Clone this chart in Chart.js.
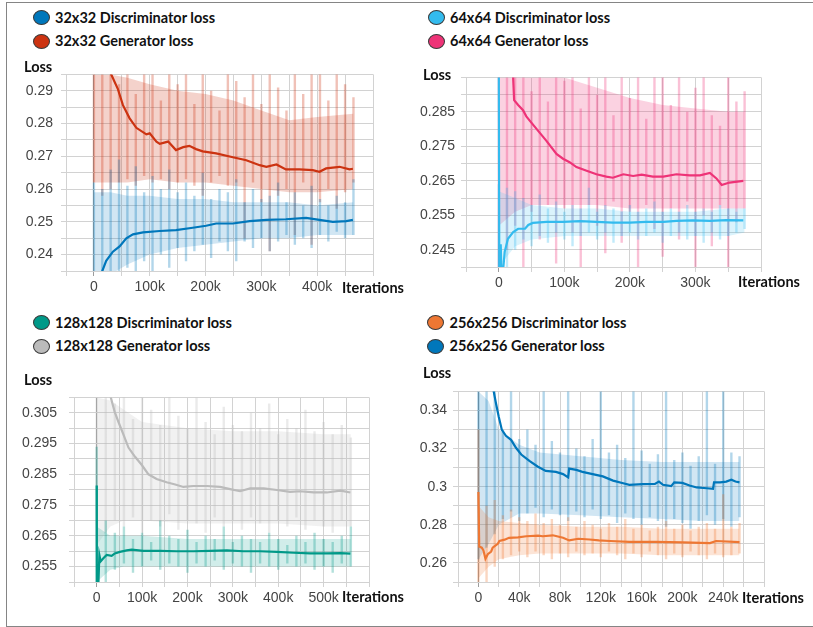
<!DOCTYPE html>
<html>
<head>
<meta charset="utf-8">
<title>GAN losses</title>
<script src="https://cdn.jsdelivr.net/npm/chart.js@4.4.0/dist/chart.umd.min.js"></script>
<style>
  html, body { margin: 0; padding: 0; background: #fff; overflow: hidden; }
  body { width: 813px; height: 627px; position: relative; font-family: Lato, 'Open Sans', sans-serif; }
  .frame { position: absolute; left: 6px; top: 2px; width: 900px; height: 625px; box-sizing: border-box;
           border: 1px solid #858585; border-right: none; }
  canvas { position: absolute; }
  .leg { position: absolute; height: 20px; line-height: 20px; font-weight: 700; font-size: 14.5px; color: #111; white-space: nowrap; }
  .dot { position: absolute; width: 17px; height: 15px; border-radius: 50%; border: 1px solid #3a3a3a; box-sizing: border-box; }
  .lbl { position: absolute; height: 20px; line-height: 20px; font-weight: 700; font-size: 14.5px; color: #111; white-space: nowrap; }
</style>
</head>
<body>
<div class="frame"></div>
<canvas id="c1" width="382" height="248" style="left:6px;top:58px"></canvas>
<canvas id="c2" width="370" height="239" style="left:406px;top:63px"></canvas>
<canvas id="c3" width="370" height="240" style="left:14px;top:377px"></canvas>
<canvas id="c4" width="381" height="240" style="left:398px;top:377px"></canvas>
<div id="labels"></div>

<script>
// ---------- panel 1 : 32x32 ----------
const p1Names = ['32x32 Discriminator loss', '32x32 Generator loss'];
const p1XLabels = ['0', '100k', '200k', '300k', '400k'];
const p1YLabels = ['0.24', '0.25', '0.26', '0.27', '0.28', '0.29'];
const p1DiscX = [14000, 15000, 22000, 34000, 46000, 58000, 70000, 88000, 118000, 147000, 177000, 201000, 219000, 249000, 279000, 309000, 344000, 380000, 404000, 428000, 452000, 464000];
const p1DiscY = [0.233, 0.235, 0.2381, 0.2409, 0.2425, 0.2450, 0.2462, 0.2468, 0.2472, 0.2475, 0.2482, 0.2488, 0.2495, 0.2495, 0.2502, 0.2506, 0.2508, 0.2512, 0.2506, 0.2500, 0.2502, 0.2506];
const p1GenX = [30000, 31000, 43000, 52000, 64000, 76000, 94000, 100000, 112000, 118000, 133000, 147000, 160000, 171000, 183000, 195000, 219000, 249000, 273000, 297000, 309000, 327000, 344000, 368000, 392000, 404000, 416000, 440000, 458000, 464000];
const p1GenY = [0.297, 0.295, 0.2905, 0.2856, 0.2816, 0.2787, 0.2767, 0.2770, 0.2745, 0.2738, 0.2745, 0.2719, 0.2728, 0.2732, 0.2722, 0.2715, 0.2709, 0.2697, 0.2688, 0.2673, 0.2668, 0.2675, 0.2660, 0.2660, 0.2658, 0.2653, 0.2663, 0.2668, 0.2660, 0.2662];
// raw (unsmoothed) curves: spike tops / bottoms and the dense core
const p1RawX = [0, 15000, 30000, 45000, 60000, 75000, 90000, 105000, 120000, 135000, 150000, 165000, 180000, 195000, 210000, 225000, 240000, 255000, 270000, 285000, 300000, 315000, 330000, 345000, 360000, 375000, 390000, 405000, 420000, 435000, 450000, 465000];
const p1DiscHi = [0.262, 0.260, 0.266, 0.269, 0.261, 0.267, 0.259, 0.264, 0.260, 0.266, 0.259, 0.262, 0.258, 0.265, 0.257, 0.260, 0.259, 0.263, 0.256, 0.260, 0.257, 0.258, 0.262, 0.256, 0.259, 0.255, 0.261, 0.257, 0.255, 0.258, 0.256, 0.263];
const p1DiscLo = [0.230, 0.230, 0.230, 0.233, 0.236, 0.230, 0.238, 0.234, 0.240, 0.236, 0.242, 0.238, 0.241, 0.243, 0.239, 0.244, 0.241, 0.238, 0.244, 0.242, 0.245, 0.241, 0.244, 0.246, 0.243, 0.245, 0.242, 0.246, 0.244, 0.247, 0.245, 0.246];
const p1GenHi = [0.300, 0.300, 0.296, 0.292, 0.300, 0.289, 0.300, 0.296, 0.287, 0.300, 0.292, 0.300, 0.286, 0.300, 0.290, 0.284, 0.300, 0.293, 0.288, 0.300, 0.286, 0.300, 0.291, 0.284, 0.300, 0.289, 0.300, 0.300, 0.287, 0.300, 0.292, 0.288];
const p1GenLo = [0.262, 0.258, 0.260, 0.262, 0.263, 0.261, 0.264, 0.262, 0.263, 0.260, 0.262, 0.263, 0.261, 0.258, 0.262, 0.264, 0.261, 0.262, 0.245, 0.262, 0.256, 0.241, 0.258, 0.260, 0.246, 0.262, 0.243, 0.256, 0.260, 0.254, 0.259, 0.262];
const p1CoreX = [0, 30000, 60000, 100000, 150000, 200000, 250000, 300000, 350000, 400000, 465000];
const p1DiscCoreHi = [0.259, 0.259, 0.258, 0.258, 0.257, 0.257, 0.256, 0.256, 0.256, 0.255, 0.256];
const p1DiscCoreLo = [0.232, 0.234, 0.237, 0.240, 0.242, 0.243, 0.244, 0.245, 0.245, 0.246, 0.246];
const p1GenCoreHi = [0.295, 0.295, 0.294, 0.292, 0.290, 0.289, 0.287, 0.284, 0.281, 0.282, 0.283];
const p1GenCoreLo = [0.262, 0.262, 0.262, 0.263, 0.262, 0.262, 0.261, 0.260, 0.259, 0.259, 0.260];

// ---------- panel 2 : 64x64 ----------
const p2Names = ['64x64 Discriminator loss', '64x64 Generator loss'];
const p2XLabels = ['0', '100k', '200k', '300k'];
const p2YLabels = ['0.245', '0.255', '0.265', '0.275', '0.285'];
const p2DiscX = [0, 800, 1500, 3000, 4000, 6600, 9000, 14000, 22000, 29500, 40000, 45000, 52000, 73000, 98000, 124000, 149000, 174000, 200000, 225000, 251000, 271000, 296000, 322000, 347000, 373000];
const p2DiscY = [0.300, 0.238, 0.2463, 0.2463, 0.239, 0.239, 0.2444, 0.2482, 0.2501, 0.2511, 0.2511, 0.2522, 0.2528, 0.2531, 0.2531, 0.2533, 0.2531, 0.2529, 0.2529, 0.2531, 0.2531, 0.2534, 0.2535, 0.2534, 0.2536, 0.2535];
const p2GenX = [21000, 21900, 23400, 29500, 37000, 42000, 50000, 62600, 72700, 88000, 98000, 108000, 118500, 134000, 149000, 164000, 174000, 190000, 205000, 218000, 235000, 251000, 271000, 291000, 307000, 322000, 332000, 340000, 352000, 373000];
const p2GenY = [0.300, 0.295, 0.2884, 0.2870, 0.2855, 0.2837, 0.2818, 0.2789, 0.2766, 0.2728, 0.2714, 0.2704, 0.2690, 0.2679, 0.2669, 0.2662, 0.2659, 0.2669, 0.2664, 0.2668, 0.2662, 0.2662, 0.2669, 0.2666, 0.2666, 0.2673, 0.2657, 0.2638, 0.2645, 0.2650];
const p2RawX = [0, 12500, 25000, 37500, 50000, 62500, 75000, 87500, 100000, 112500, 125000, 137500, 150000, 162500, 175000, 187500, 200000, 212500, 225000, 237500, 250000, 262500, 275000, 287500, 300000, 312500, 325000, 337500, 350000, 362500, 375000];
const p2DiscHi = [0.264, 0.263, 0.262, 0.260, 0.258, 0.261, 0.257, 0.259, 0.256, 0.258, 0.257, 0.263, 0.256, 0.258, 0.257, 0.256, 0.258, 0.256, 0.257, 0.259, 0.256, 0.257, 0.256, 0.258, 0.256, 0.257, 0.256, 0.258, 0.257, 0.256, 0.257];
const p2DiscLo = [0.240, 0.240, 0.245, 0.248, 0.246, 0.249, 0.247, 0.250, 0.248, 0.246, 0.249, 0.250, 0.248, 0.250, 0.247, 0.249, 0.250, 0.248, 0.249, 0.250, 0.247, 0.249, 0.250, 0.248, 0.249, 0.247, 0.250, 0.248, 0.249, 0.250, 0.251];
const p2GenHi = [0.300, 0.300, 0.300, 0.300, 0.291, 0.300, 0.288, 0.300, 0.294, 0.300, 0.286, 0.300, 0.290, 0.300, 0.284, 0.300, 0.289, 0.300, 0.283, 0.296, 0.300, 0.287, 0.300, 0.285, 0.292, 0.300, 0.284, 0.281, 0.300, 0.288, 0.291];
const p2GenLo = [0.240, 0.245, 0.252, 0.240, 0.256, 0.248, 0.258, 0.241, 0.257, 0.250, 0.240, 0.258, 0.252, 0.244, 0.259, 0.247, 0.256, 0.240, 0.258, 0.251, 0.243, 0.257, 0.248, 0.259, 0.240, 0.255, 0.246, 0.258, 0.240, 0.253, 0.257];
const p2CoreX = [0, 25000, 50000, 100000, 150000, 200000, 250000, 300000, 350000, 375000];
const p2DiscCoreHi = [0.262, 0.260, 0.258, 0.257, 0.257, 0.256, 0.256, 0.256, 0.257, 0.257];
const p2DiscCoreLo = [0.240, 0.246, 0.248, 0.249, 0.249, 0.249, 0.249, 0.249, 0.249, 0.250];
const p2GenCoreHi = [0.300, 0.300, 0.298, 0.295, 0.292, 0.289, 0.287, 0.286, 0.285, 0.285];
const p2GenCoreLo = [0.252, 0.256, 0.258, 0.258, 0.258, 0.257, 0.257, 0.257, 0.257, 0.257];

// ---------- panel 3 : 128x128 ----------
const p3Names = ['128x128 Discriminator loss', '128x128 Generator loss'];
const p3XLabels = ['0', '100k', '200k', '300k', '400k', '500k'];
const p3YLabels = ['0.255', '0.265', '0.275', '0.285', '0.295', '0.305'];
const p3DiscX = [0, 300, 3700, 5900, 8800, 14700, 22000, 33000, 40000, 51000, 66000, 77000, 103000, 140000, 176000, 213000, 250000, 287000, 323000, 360000, 397000, 434000, 470000, 507000, 537000, 559000];
const p3DiscY = [0.2814, 0.249, 0.249, 0.2588, 0.2567, 0.2577, 0.2588, 0.2585, 0.2593, 0.2598, 0.2603, 0.2605, 0.2601, 0.2601, 0.2600, 0.2600, 0.2601, 0.2603, 0.2600, 0.2600, 0.2598, 0.2595, 0.2593, 0.2593, 0.2594, 0.2592];
const p3GenX = [30000, 31000, 40000, 48000, 59000, 70000, 84500, 99000, 114000, 132000, 154000, 173000, 191000, 213000, 243000, 272000, 294000, 316000, 338000, 368000, 397000, 426000, 448000, 478000, 507000, 537000, 559000];
const p3GenY = [0.312, 0.310, 0.3051, 0.3020, 0.2979, 0.2937, 0.2907, 0.2881, 0.2850, 0.2835, 0.2824, 0.2817, 0.2809, 0.2812, 0.2812, 0.2809, 0.2802, 0.2795, 0.2804, 0.2804, 0.2799, 0.2793, 0.2795, 0.2791, 0.2791, 0.2797, 0.2791];
const p3RawX = [0, 20000, 40000, 60000, 80000, 100000, 120000, 140000, 160000, 180000, 200000, 220000, 240000, 260000, 280000, 300000, 320000, 340000, 360000, 380000, 400000, 420000, 440000, 460000, 480000, 500000, 520000, 540000, 560000];
const p3DiscHi = [0.294, 0.270, 0.266, 0.268, 0.264, 0.266, 0.263, 0.270, 0.265, 0.264, 0.267, 0.263, 0.265, 0.264, 0.268, 0.263, 0.265, 0.264, 0.263, 0.266, 0.264, 0.262, 0.265, 0.263, 0.266, 0.264, 0.263, 0.265, 0.268];
const p3DiscLo = [0.250, 0.250, 0.254, 0.256, 0.253, 0.255, 0.257, 0.254, 0.256, 0.255, 0.253, 0.256, 0.255, 0.257, 0.254, 0.256, 0.255, 0.253, 0.256, 0.255, 0.254, 0.256, 0.255, 0.256, 0.254, 0.255, 0.253, 0.256, 0.255];
const p3GenHi = [0.315, 0.315, 0.308, 0.315, 0.303, 0.315, 0.306, 0.301, 0.315, 0.304, 0.300, 0.310, 0.302, 0.298, 0.307, 0.301, 0.299, 0.305, 0.300, 0.308, 0.298, 0.303, 0.300, 0.306, 0.299, 0.302, 0.298, 0.301, 0.297];
const p3GenLo = [0.260, 0.266, 0.270, 0.268, 0.271, 0.266, 0.270, 0.268, 0.272, 0.267, 0.270, 0.269, 0.266, 0.271, 0.268, 0.270, 0.267, 0.271, 0.269, 0.266, 0.270, 0.268, 0.271, 0.267, 0.270, 0.268, 0.266, 0.270, 0.268];
const p3CoreX = [0, 30000, 60000, 100000, 200000, 300000, 400000, 500000, 560000];
const p3DiscCoreHi = [0.268, 0.265, 0.265, 0.265, 0.264, 0.264, 0.264, 0.264, 0.264];
const p3DiscCoreLo = [0.250, 0.254, 0.255, 0.255, 0.255, 0.255, 0.255, 0.255, 0.255];
const p3GenCoreHi = [0.310, 0.309, 0.306, 0.302, 0.300, 0.299, 0.299, 0.298, 0.298];
const p3GenCoreLo = [0.262, 0.268, 0.270, 0.270, 0.269, 0.269, 0.269, 0.268, 0.268];

// ---------- panel 4 : 256x256 ----------
const p4Names = ['256x256 Discriminator loss', '256x256 Generator loss'];
const p4XLabels = ['0', '40k', '80k', '120k', '160k', '200k', '240k'];
const p4YLabels = ['0.26', '0.28', '0.3', '0.32', '0.34'];
const p4DiscX = [0, 800, 3300, 5000, 6900, 9200, 12500, 14000, 19000, 20600, 25700, 30000, 38800, 47000, 58600, 63000, 73000, 83000, 89000, 98000, 109000, 118000, 129000, 148000, 174000, 200000, 227000, 233000, 256000];
const p4DiscY = [0.2972, 0.2686, 0.268, 0.2665, 0.2622, 0.2646, 0.266, 0.268, 0.270, 0.2715, 0.2722, 0.2732, 0.2734, 0.274, 0.2743, 0.274, 0.2745, 0.2732, 0.2718, 0.2727, 0.2723, 0.2718, 0.2715, 0.2711, 0.2711, 0.2708, 0.2704, 0.2715, 0.2709];
const p4GenX = [14500, 15000, 17300, 20000, 23000, 27000, 32000, 37000, 42000, 50000, 58000, 66000, 76000, 83000, 88000, 89000, 96000, 102000, 112000, 122000, 132000, 142000, 148000, 161000, 173000, 177000, 181000, 189000, 192000, 200000, 207000, 214000, 224000, 230000, 231000, 237000, 243000, 248000, 252000, 256000];
const p4GenY = [0.352, 0.350, 0.3435, 0.3366, 0.3298, 0.3267, 0.3246, 0.3203, 0.3169, 0.3135, 0.3106, 0.3083, 0.3078, 0.3066, 0.3049, 0.3095, 0.3088, 0.3078, 0.3066, 0.3054, 0.3032, 0.3018, 0.3010, 0.3013, 0.3015, 0.3027, 0.3010, 0.3003, 0.3023, 0.3020, 0.3006, 0.2996, 0.2992, 0.2989, 0.3023, 0.3023, 0.3027, 0.3037, 0.3027, 0.3023];
const p4RawX = [0, 8000, 16000, 24000, 32000, 40000, 48000, 56000, 64000, 72000, 80000, 88000, 96000, 104000, 112000, 120000, 128000, 136000, 144000, 152000, 160000, 168000, 176000, 184000, 192000, 200000, 208000, 216000, 224000, 232000, 240000, 248000, 256000];
const p4DiscHi = [0.330, 0.290, 0.293, 0.285, 0.288, 0.284, 0.282, 0.286, 0.281, 0.283, 0.280, 0.284, 0.279, 0.282, 0.280, 0.278, 0.281, 0.279, 0.283, 0.278, 0.280, 0.277, 0.279, 0.282, 0.278, 0.280, 0.277, 0.279, 0.281, 0.278, 0.296, 0.279, 0.281];
const p4DiscLo = [0.250, 0.250, 0.258, 0.262, 0.264, 0.266, 0.263, 0.266, 0.264, 0.262, 0.265, 0.263, 0.266, 0.264, 0.265, 0.263, 0.266, 0.264, 0.262, 0.265, 0.263, 0.266, 0.264, 0.262, 0.265, 0.263, 0.266, 0.264, 0.262, 0.265, 0.263, 0.264, 0.265];
const p4GenHi = [0.36, 0.36, 0.36, 0.33, 0.36, 0.325, 0.33, 0.322, 0.36, 0.324, 0.318, 0.36, 0.32, 0.316, 0.325, 0.36, 0.318, 0.322, 0.315, 0.36, 0.319, 0.312, 0.317, 0.36, 0.314, 0.318, 0.311, 0.316, 0.36, 0.312, 0.36, 0.318, 0.316];
const p4GenLo = [0.262, 0.268, 0.275, 0.283, 0.287, 0.282, 0.286, 0.289, 0.284, 0.288, 0.285, 0.282, 0.287, 0.284, 0.288, 0.283, 0.285, 0.281, 0.286, 0.283, 0.280, 0.284, 0.282, 0.279, 0.283, 0.281, 0.278, 0.282, 0.285, 0.280, 0.283, 0.279, 0.284];
const p4CoreX = [0, 10000, 20000, 40000, 60000, 100000, 140000, 180000, 220000, 256000];
const p4DiscCoreHi = [0.290, 0.284, 0.282, 0.281, 0.280, 0.279, 0.279, 0.278, 0.278, 0.278];
const p4DiscCoreLo = [0.252, 0.258, 0.262, 0.264, 0.265, 0.265, 0.265, 0.264, 0.264, 0.264];
const p4GenCoreHi = [0.350, 0.345, 0.330, 0.322, 0.318, 0.316, 0.314, 0.313, 0.313, 0.313];
const p4GenCoreLo = [0.262, 0.270, 0.280, 0.286, 0.286, 0.285, 0.284, 0.283, 0.282, 0.282];

// tensorboard colours
const BLUE = [0, 119, 187], RED = [204, 51, 17], CYAN = [51, 187, 238], MAGENTA = [238, 51, 119];
const TEAL = [0, 153, 136], GREY = [187, 187, 187], ORANGE = [238, 119, 51];

const rgba = (c, a) => `rgba(${c[0]},${c[1]},${c[2]},${a})`;
const pts = (xs, ys) => xs.map((x, i) => ({ x: x, y: ys[i] }));
const parseLabel = s => parseFloat(s) * (s.endsWith('k') ? 1000 : 1);

function gridTicks(min, max, step) {
	const out = [];
	const n = Math.round((max - min) / step);
	for (let i = 0; i <= n; i++) out.push({ value: +(min + i * step).toFixed(6) });
	return out;
}

function labelFor(list, v) {
	const hit = list.find(s => Math.abs(parseLabel(s) - v) < 1e-7 * Math.max(1, Math.abs(v)));
	return hit === undefined ? '' : hit;
}

// raw curve spikes: one vertical stroke per logged step, from its dip to its peak
function spikes(xs, hi, lo) {
	const out = [];
	xs.forEach((x, i) => {
		out.push({ x: x, y: lo[i] });
		out.push({ x: x, y: hi[i] });
		out.push({ x: x, y: null });
	});
	return out;
}

function smooth(xs, ys, col, order) {
	return { data: pts(xs, ys), borderColor: rgba(col, 1), borderWidth: 2.2, pointRadius: 0, fill: false, order: order };
}

function raw(xs, hi, lo, col, order) {
	return { data: spikes(xs, hi, lo), borderColor: rgba(col, 0.3), borderWidth: 2.4, borderCapStyle: 'butt',
		pointRadius: 0, fill: false, spanGaps: false, order: order };
}

function core(xs, ys, col, alpha, order, fill) {
	return {
		data: pts(xs, ys), borderWidth: 0, borderColor: 'rgba(0,0,0,0)',
		backgroundColor: rgba(col, alpha), pointRadius: 0, fill: fill ? '+1' : false, order: order
	};
}

function makePanel(id, p) {
	const ctx = document.getElementById(id).getContext('2d');
	const tickFont = { family: "'Liberation Sans', Arial, sans-serif", size: 14 };
	new Chart(ctx, {
		type: 'line',
		data: {
			datasets: [
				smooth(p.discX, p.discY, p.discCol, 0),
				smooth(p.genX, p.genY, p.genCol, 1),
				raw(p.rawX, p.discHi, p.discLo, p.discCol, 2),
				core(p.coreX, p.discCoreHi, p.discCol, p.discAlpha, 3, true),
				core(p.coreX, p.discCoreLo, p.discCol, p.discAlpha, 4, false),
				raw(p.rawX, p.genHi, p.genLo, p.genCol, 5),
				core(p.coreX, p.genCoreHi, p.genCol, p.genAlpha, 6, true),
				core(p.coreX, p.genCoreLo, p.genCol, p.genAlpha, 7, false)
			]
		},
		options: {
			responsive: false,
			animation: false,
			layout: { padding: { top: 10, right: 15, left: 0, bottom: 0 } },
			plugins: { legend: { display: false }, tooltip: { enabled: false } },
			elements: { line: { tension: 0 } },
			scales: {
				x: {
					type: 'linear', min: p.xMin, max: p.xMax,
					afterBuildTicks: a => { a.ticks = gridTicks(p.xMin, p.xMax, p.xStep); },
					afterFit: a => { a.height = 35; },
					border: { display: false },
					grid: { color: c => (c.tick && c.tick.value === 0 ? '#9c9c9c' : '#d2d2d2'), tickLength: 5 },
					ticks: { autoSkip: false, maxRotation: 0, padding: 3, font: tickFont, color: '#444',
						callback: v => labelFor(p.xLabels, v) }
				},
				y: {
					type: 'linear', min: p.yMin, max: p.yMax,
					afterBuildTicks: a => { a.ticks = gridTicks(p.yMin, p.yMax, p.yStep); },
					afterFit: a => { a.width = 60; },
					border: { display: false },
					grid: { color: '#d2d2d2', tickLength: 5 },
					ticks: { autoSkip: false, padding: p.yPad, font: tickFont, color: '#444',
						callback: v => labelFor(p.yLabels, v) }
				}
			}
		}
	});
}

makePanel('c1', {
	discX: p1DiscX, discY: p1DiscY, genX: p1GenX, genY: p1GenY, rawX: p1RawX,
	discHi: p1DiscHi, discLo: p1DiscLo, genHi: p1GenHi, genLo: p1GenLo,
	coreX: p1CoreX, discCoreHi: p1DiscCoreHi, discCoreLo: p1DiscCoreLo, genCoreHi: p1GenCoreHi, genCoreLo: p1GenCoreLo,
	discCol: BLUE, genCol: RED, discAlpha: 0.18, genAlpha: 0.22,
	xMin: -50000, xMax: 500000, xStep: 50000, yMin: 0.235, yMax: 0.295, yStep: 0.005,
	xLabels: p1XLabels, yLabels: p1YLabels, yPad: 8
});
makePanel('c2', {
	discX: p2DiscX, discY: p2DiscY, genX: p2GenX, genY: p2GenY, rawX: p2RawX,
	discHi: p2DiscHi, discLo: p2DiscLo, genHi: p2GenHi, genLo: p2GenLo,
	coreX: p2CoreX, discCoreHi: p2DiscCoreHi, discCoreLo: p2DiscCoreLo, genCoreHi: p2GenCoreHi, genCoreLo: p2GenCoreLo,
	discCol: CYAN, genCol: MAGENTA, discAlpha: 0.18, genAlpha: 0.22,
	xMin: -50000, xMax: 400000, xStep: 50000, yMin: 0.24, yMax: 0.295, yStep: 0.005,
	xLabels: p2XLabels, yLabels: p2YLabels, yPad: 6
});
makePanel('c3', {
	discX: p3DiscX, discY: p3DiscY, genX: p3GenX, genY: p3GenY, rawX: p3RawX,
	discHi: p3DiscHi, discLo: p3DiscLo, genHi: p3GenHi, genLo: p3GenLo,
	coreX: p3CoreX, discCoreHi: p3DiscCoreHi, discCoreLo: p3DiscCoreLo, genCoreHi: p3GenCoreHi, genCoreLo: p3GenCoreLo,
	discCol: TEAL, genCol: GREY, discAlpha: 0.18, genAlpha: 0.2,
	xMin: -50000, xMax: 600000, xStep: 50000, yMin: 0.25, yMax: 0.31, yStep: 0.005,
	xLabels: p3XLabels, yLabels: p3YLabels, yPad: 12
});
makePanel('c4', {
	discX: p4DiscX, discY: p4DiscY, genX: p4GenX, genY: p4GenY, rawX: p4RawX,
	discHi: p4DiscHi, discLo: p4DiscLo, genHi: p4GenHi, genLo: p4GenLo,
	coreX: p4CoreX, discCoreHi: p4DiscCoreHi, discCoreLo: p4DiscCoreLo, genCoreHi: p4GenCoreHi, genCoreLo: p4GenCoreLo,
	discCol: ORANGE, genCol: BLUE, discAlpha: 0.2, genAlpha: 0.18,
	xMin: -20000, xMax: 280000, xStep: 20000, yMin: 0.25, yMax: 0.35, yStep: 0.01,
	xLabels: p4XLabels, yLabels: p4YLabels, yPad: 6
});

// legends and axis captions
const holder = document.getElementById('labels');
function addText(cls, text, x, cy) {
	const d = document.createElement('div');
	d.className = cls;
	d.textContent = text;
	d.style.left = x + 'px';
	d.style.top = (cy - 10) + 'px';
	holder.appendChild(d);
}
function addLegend(names, cols, x, cy1, cy2) {
	[cy1, cy2].forEach((cy, i) => {
		const dot = document.createElement('div');
		dot.className = 'dot';
		dot.style.left = (x - 8.5) + 'px';
		dot.style.top = (cy - 7.5) + 'px';
		dot.style.background = rgba(cols[i], 1);
		holder.appendChild(dot);
		addText('leg', names[i], x + 14, cy);
	});
}
addLegend(p1Names, [BLUE, RED], 41, 17.5, 41);
addLegend(p2Names, [CYAN, MAGENTA], 436, 17.5, 41);
addLegend(p3Names, [TEAL, GREY], 41, 322.5, 346);
addLegend(p4Names, [ORANGE, BLUE], 435.5, 322.5, 346);

addText('lbl', 'Loss', 24, 67);
addText('lbl', 'Loss', 423, 75);
addText('lbl', 'Loss', 24, 380);
addText('lbl', 'Loss', 423, 373);
addText('lbl', 'Iterations', 342, 288);
addText('lbl', 'Iterations', 738, 282);
addText('lbl', 'Iterations', 342, 597);
addText('lbl', 'Iterations', 742, 598);
</script>
</body>
</html>
